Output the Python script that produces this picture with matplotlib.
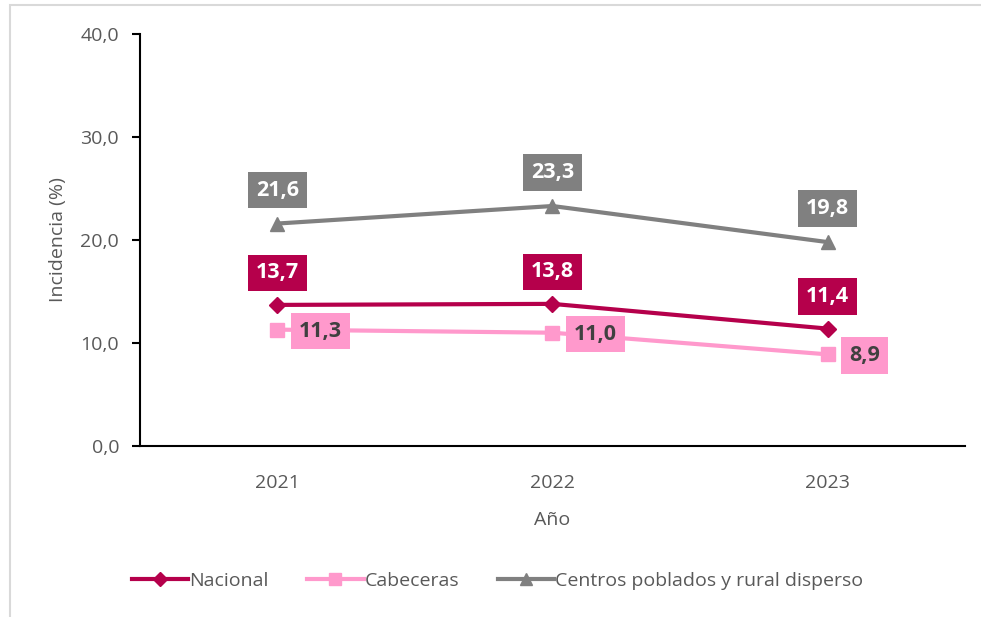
import matplotlib.pyplot as plt
from matplotlib.patches import Rectangle

plt.rcParams['font.family'] = ['Open Sans', 'DejaVu Sans']

# data
years = ['2021', '2022', '2023']
nacional = [13.7, 13.8, 11.4]
cabeceras = [11.3, 11.0, 8.9]
rural = [21.6, 23.3, 19.8]

c_nac = '#B5004B'
c_cab = '#FF99CC'
c_rur = '#808080'
txt = '#595959'

fig = plt.figure(figsize=(9.81, 6.17), dpi=100)
ax = fig.add_axes([0.1427, 0.2771, 0.841, 0.6678])

# light chart border (partly cropped like in the original)
fig.patches.append(Rectangle((10 / 981, -0.1), 1.2, 1 - 5 / 617 + 0.1,
                             transform=fig.transFigure, fill=False,
                             edgecolor='#D9D9D9', linewidth=1.5))

x = range(len(years))
ax.plot(x, nacional, color=c_nac, lw=3, marker='D', ms=8, label='Nacional')
ax.plot(x, cabeceras, color=c_cab, lw=3, marker='s', ms=10, label='Cabeceras')
ax.plot(x, rural, color=c_rur, lw=3, marker='^', ms=10,
        label='Centros poblados y rural disperso')

def fmt(v):
    return f'{v:.1f}'.replace('.', ',')

lab = dict(va='center', fontsize=15.5, fontweight='bold', textcoords='offset points')
pad = 0.36
for i, v in enumerate(rural):
    ax.annotate(fmt(v), (i, v), xytext=(0, 24), color='white', ha='center',
                bbox=dict(boxstyle=f'square,pad={pad}', fc=c_rur, ec='none'), **lab)
for i, v in enumerate(nacional):
    ax.annotate(fmt(v), (i, v), xytext=(0, 23), color='white', ha='center',
                bbox=dict(boxstyle=f'square,pad={pad}', fc=c_nac, ec='none'), **lab)
for i, v in enumerate(cabeceras):
    ax.annotate(fmt(v), (i, v), xytext=(15.5, -1), color='#404040', ha='left',
                bbox=dict(boxstyle=f'square,pad={pad}', fc=c_cab, ec='none'), **lab)

ax.set_xlim(-0.5, 2.5)
ax.set_ylim(0, 40)
ax.set_xticks(list(x))
ax.set_xticklabels(years)
ax.set_yticks([0, 10, 20, 30, 40])
ax.set_yticklabels([fmt(t) for t in [0, 10, 20, 30, 40]])
ax.tick_params(axis='y', length=6, width=1.5, colors='black', labelcolor=txt,
               labelsize=14, pad=9)
ax.tick_params(axis='x', length=0, labelcolor=txt, labelsize=14, pad=20)

for s in ['top', 'right']:
    ax.spines[s].set_visible(False)
for s in ['left', 'bottom']:
    ax.spines[s].set_linewidth(1.5)
    ax.spines[s].set_color('black')

ax.set_xlabel('Año', fontsize=14, color=txt, labelpad=14)
ax.set_ylabel('Incidencia (%)', fontsize=14, color=txt, labelpad=10)

ax.legend(loc='center left', bbox_to_anchor=(114 / 981, 1 - 581 / 617),
          bbox_transform=fig.transFigure, ncol=3, frameon=False, fontsize=14,
          labelcolor=txt, handlelength=2.9, handletextpad=0.05, columnspacing=2.0,
          markerscale=0.9)

fig.savefig('out.png', dpi=100)
